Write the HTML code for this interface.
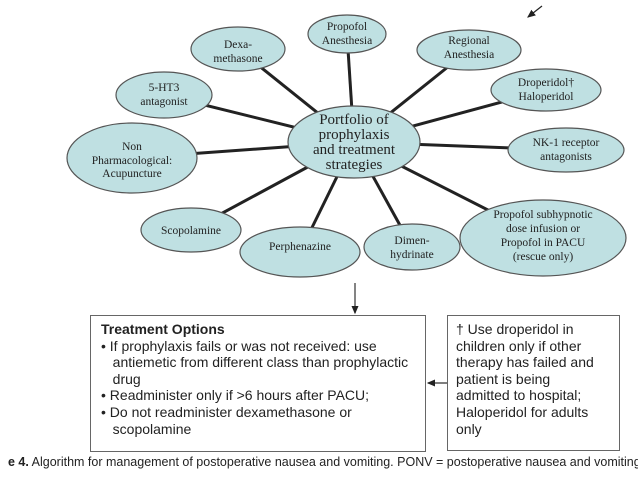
<!DOCTYPE html>
<html><head><meta charset="utf-8"><style>
body{margin:0;background:#fff;width:638px;height:479px;overflow:hidden;position:relative;font-family:"Liberation Sans",sans-serif}
svg{position:absolute;left:0;top:0}
.box{position:absolute;border:1.5px solid #666;box-sizing:border-box;font-size:14px;line-height:16.6px;color:#222}
</style></head><body>
<svg width="638" height="479" viewBox="0 0 638 479">
<defs><marker id="ah" markerWidth="8" markerHeight="8" refX="6" refY="4" orient="auto"><path d="M0,1 L7,4 L0,7z" fill="#222"/></marker></defs>
<g stroke="#222" stroke-width="3">
<line x1="354" y1="142" x2="347" y2="34"/>
<line x1="354" y1="142" x2="238" y2="49"/>
<line x1="354" y1="142" x2="469" y2="50"/>
<line x1="354" y1="142" x2="164" y2="95"/>
<line x1="354" y1="142" x2="546" y2="90"/>
<line x1="354" y1="142" x2="132" y2="158"/>
<line x1="354" y1="142" x2="566" y2="150"/>
<line x1="354" y1="142" x2="191" y2="230"/>
<line x1="354" y1="142" x2="300" y2="252"/>
<line x1="354" y1="142" x2="412" y2="247"/>
<line x1="354" y1="142" x2="543" y2="238"/>
</g>
<g fill="#bfe0e2" stroke="#555" stroke-width="1.2">
<ellipse cx="347" cy="34" rx="39" ry="19"/>
<ellipse cx="238" cy="49" rx="47" ry="22"/>
<ellipse cx="469" cy="50" rx="52" ry="20"/>
<ellipse cx="164" cy="95" rx="48" ry="23"/>
<ellipse cx="546" cy="90" rx="55" ry="21"/>
<ellipse cx="132" cy="158" rx="65" ry="35"/>
<ellipse cx="566" cy="150" rx="58" ry="22"/>
<ellipse cx="191" cy="230" rx="50" ry="22"/>
<ellipse cx="300" cy="252" rx="60" ry="25"/>
<ellipse cx="412" cy="247" rx="48" ry="23"/>
<ellipse cx="543" cy="238" rx="83" ry="38"/>
<ellipse cx="354" cy="142" rx="66" ry="36"/>
</g>
<g font-family="Liberation Serif, serif" font-size="11.5" fill="#222" text-anchor="middle">
<text x="347" y="30">Propofol</text><text x="347" y="44">Anesthesia</text>
<text x="238" y="48">Dexa-</text><text x="238" y="62">methasone</text>
<text x="469" y="44">Regional</text><text x="469" y="58">Anesthesia</text>
<text x="164" y="91">5-HT3</text><text x="164" y="105">antagonist</text>
<text x="546" y="86">Droperidol†</text><text x="546" y="100">Haloperidol</text>
<text x="132" y="150">Non</text><text x="132" y="164">Pharmacological:</text><text x="132" y="177">Acupuncture</text>
<text x="566" y="146">NK-1 receptor</text><text x="566" y="160">antagonists</text>
<text x="191" y="234">Scopolamine</text>
<text x="300" y="250">Perphenazine</text>
<text x="412" y="244">Dimen-</text><text x="412" y="258">hydrinate</text>
<text x="543" y="218">Propofol subhypnotic</text><text x="543" y="232">dose infusion or</text><text x="543" y="246">Propofol in PACU</text><text x="543" y="260">(rescue only)</text>
<g font-size="15"><text x="354" y="124">Portfolio of</text><text x="354" y="139">prophylaxis</text><text x="354" y="154">and treatment</text><text x="354" y="169">strategies</text></g>
</g>
<line x1="355" y1="283" x2="355" y2="313" stroke="#333" stroke-width="1.2" marker-end="url(#ah)"/>
<line x1="447" y1="383" x2="428" y2="383" stroke="#333" stroke-width="1.2" marker-end="url(#ah)"/>
<line x1="542" y1="6" x2="528" y2="17" stroke="#222" stroke-width="1.2" marker-end="url(#ah)"/>
</svg>
<div class="box" style="left:90px;top:315px;width:336px;height:137px;padding:5px 0 0 10px">
<div style="font-weight:bold">Treatment Options</div>
<div>• If prophylaxis fails or was not received: use<br>&nbsp;&nbsp;&nbsp;antiemetic from different class than prophylactic<br>&nbsp;&nbsp;&nbsp;drug</div>
<div>• Readminister only if &gt;6 hours after PACU;</div>
<div>• Do not readminister dexamethasone or<br>&nbsp;&nbsp;&nbsp;scopolamine</div>
</div>
<div class="box" style="left:447px;top:315px;width:173px;height:136px;padding:5px 0 0 8px">† Use droperidol in<br>children only if other<br>therapy has failed and<br>patient is being<br>admitted to hospital;<br>Haloperidol for adults<br>only</div>
<div style="position:absolute;left:8px;top:455px;font-size:12.5px;color:#222;white-space:nowrap"><b>e 4.</b> Algorithm for management of postoperative nausea and vomiting. PONV = postoperative nausea and vomiting.</div>
</body></html>
